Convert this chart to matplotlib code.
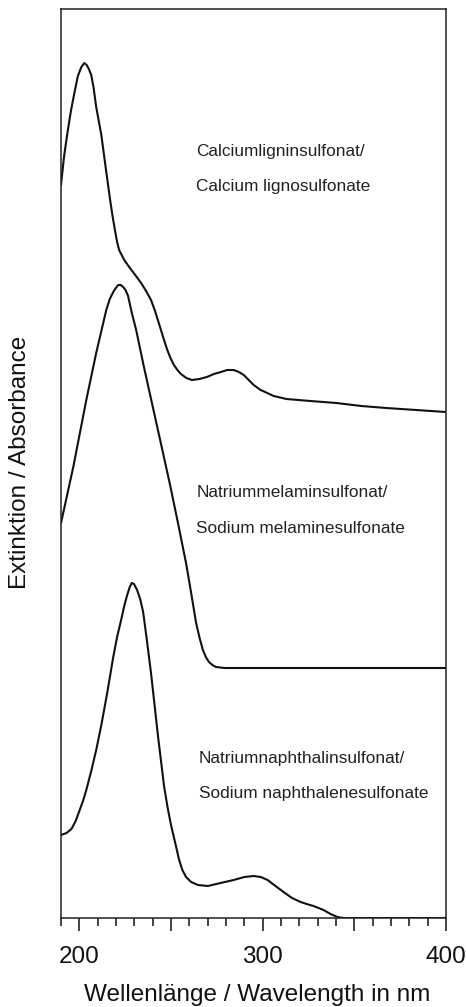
import numpy as np
import matplotlib.pyplot as plt
from matplotlib.ticker import MultipleLocator

plt.rcParams['font.family'] = ['Liberation Sans', 'DejaVu Sans']

# Calcium lignosulfonate (wavelength nm, absorbance a.u., offset trace)
wl_ca = [190, 191.7, 193.5, 195.4, 197.3, 199.2, 201.1, 202.7, 204.0, 205.2, 206.5,
         207.8, 209.2, 210.6, 212.0, 214.4, 216.8, 218.2, 219.6, 220.6, 221.7, 224.5,
         227.2, 230.5, 233.7, 236.4, 239.1, 241.3, 243.5, 245.7, 247.8, 249.7, 251.6,
         253.5, 255.4, 258.4, 261.4, 265.5, 269.6, 273.4, 277.2, 280.7, 284.2, 287.0,
         289.7, 292.4, 295.1, 298.9, 302.5, 306.0, 313.0, 326.0, 340.2, 353.8, 367.4,
         383.7, 400]
abs_ca = [7.33, 7.62, 7.85, 8.07, 8.25, 8.42, 8.51, 8.55, 8.53, 8.49, 8.43,
          8.30, 8.11, 7.97, 7.83, 7.50, 7.18, 7.01, 6.86, 6.76, 6.68, 6.58,
          6.51, 6.43, 6.35, 6.27, 6.18, 6.07, 5.94, 5.81, 5.69, 5.60, 5.53,
          5.48, 5.44, 5.40, 5.38, 5.39, 5.41, 5.44, 5.46, 5.48, 5.48, 5.46,
          5.43, 5.38, 5.33, 5.28, 5.25, 5.22, 5.19, 5.17, 5.15, 5.12, 5.10,
          5.08, 5.06]

# Sodium melaminesulfonate
wl_mel = [190, 196.7, 203.8, 209.2, 212.0, 214.7, 216.6, 218.5, 219.9, 221.2, 222.6,
          223.9, 225.2, 226.6, 228.5, 231.0, 235.0, 240.2, 244.8, 249.5, 253.8, 258.2,
          261.0, 263.6, 265.6, 267.4, 269.0, 270.7, 272.6, 274.5, 279.3, 400]
abs_mel = [3.95, 4.51, 5.18, 5.65, 5.87, 6.08, 6.19, 6.26, 6.30, 6.33, 6.33,
           6.31, 6.28, 6.22, 6.06, 5.88, 5.53, 5.10, 4.72, 4.33, 3.95, 3.55,
           3.25, 2.96, 2.80, 2.68, 2.61, 2.56, 2.53, 2.51, 2.50, 2.50]

# Sodium naphthalenesulfonate
wl_nap = [190, 193, 195.7, 198, 200, 202, 203.8, 206.5, 209.2, 212.0, 215.2,
          218.5, 220.6, 222.8, 224.5, 226.1, 227.5, 228.6, 229.8, 231.5, 233.2, 234.8,
          236.4, 239.1, 242.9, 246.2, 248.1, 250.0, 252.7, 254.3, 256.2, 258.2, 261.0,
          264.7, 270.1, 277.0, 284.2, 290.0, 295.1, 299.0, 302.7, 307.0, 311.4, 316.0,
          320.7, 324.0, 327.7, 330.5, 333.2, 337.0, 340.8, 344.0, 400]
abs_nap = [0.83, 0.85, 0.89, 0.97, 1.07, 1.17, 1.28, 1.47, 1.68, 1.93, 2.25,
           2.61, 2.81, 2.98, 3.12, 3.23, 3.31, 3.35, 3.34, 3.28, 3.19, 3.06,
           2.84, 2.45, 1.82, 1.32, 1.11, 0.93, 0.72, 0.59, 0.48, 0.41, 0.36,
           0.33, 0.32, 0.35, 0.38, 0.41, 0.42, 0.41, 0.38, 0.32, 0.26, 0.20,
           0.16, 0.14, 0.12, 0.10, 0.08, 0.04, 0.01, 0.0, 0.0]

labels = [("Calciumligninsulfonat/", "Calcium lignosulfonate"),
          ("Natriummelaminsulfonat/", "Sodium melaminesulfonate"),
          ("Natriumnaphthalinsulfonat/", "Sodium naphthalenesulfonate")]

fig = plt.figure(figsize=(4.66, 10.07), dpi=100)
ax = fig.add_axes([61 / 466, 89 / 1007, 385 / 466, 909 / 1007])

for x, y in [(wl_ca, abs_ca), (wl_mel, abs_mel), (wl_nap, abs_nap)]:
    ax.plot(x, y, color='#111111', lw=1.5, solid_joinstyle='round', solid_capstyle='round')

ax.set_xlim(190, 400)
ax.set_ylim(0, 9.09)

ax.xaxis.set_minor_locator(MultipleLocator(10))
ax.set_xticks([200, 250, 300, 350, 400])
ax.set_xticklabels(['200', '', '300', '', '400'])
ax.tick_params(axis='x', which='major', direction='out', length=9.5, width=1.1,
               labelsize=17.5, pad=11, colors='#111111')
ax.tick_params(axis='x', which='minor', direction='out', length=5.5, width=1.1, colors='#111111')
ax.set_yticks([])

for s in ax.spines.values():
    s.set_linewidth(1.1)
    s.set_color('#222222')

# sample names
txt_pos = [(0.351, 0.843, 0.805), (0.351, 0.468, 0.429), (0.358, 0.175, 0.1375)]
for (l1, l2), (tx, ty1, ty2) in zip(labels, txt_pos):
    ax.text(tx, ty1, l1, transform=ax.transAxes, fontsize=12.4, va='center', color='#222222')
    ax.text(tx, ty2, l2, transform=ax.transAxes, fontsize=12.4, va='center', color='#222222')

fig.text(257 / 466, 1 - 995 / 1007, 'Wellenlänge / Wavelength in nm', fontsize=17.5,
         ha='center', va='center', color='#111111')
fig.text(20 / 466, 1 - 462 / 1007, 'Extinktion / Absorbance', fontsize=17.5, rotation=90,
         ha='center', va='center', color='#111111')

fig.savefig('out.png', dpi=100)
